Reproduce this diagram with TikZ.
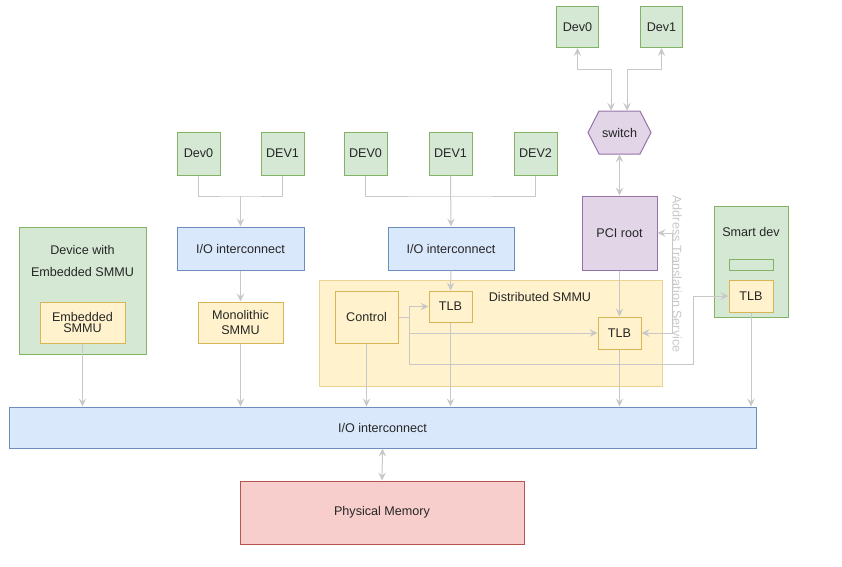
\documentclass[tikz,border=0pt]{standalone}
\usepackage{fontspec}
\setmainfont{Liberation Sans}
\usetikzlibrary{positioning,arrows.meta}
\definecolor{grnF}{HTML}{D5E8D4}
\definecolor{grnS}{HTML}{82B366}
\definecolor{bluF}{HTML}{DAE8FC}
\definecolor{bluS}{HTML}{6C8EBF}
\definecolor{ylwF}{HTML}{FFF2CC}
\definecolor{ylwS}{HTML}{D6B656}
\definecolor{purF}{HTML}{E1D5E7}
\definecolor{purS}{HTML}{9673A6}
\definecolor{redF}{HTML}{F8CECC}
\definecolor{redS}{HTML}{B85450}
\definecolor{lnk}{RGB}{200,200,200}
\colorlet{ylwD}{ylwS!50!ylwF}
\colorlet{txt}{black!85}
\tikzset{
    >={Stealth[length=8pt,width=7.5pt,inset=3pt]},
    plain/.style={font=\fontsize{12.6}{14}\selectfont,inner sep=0pt,text=txt},
    grnbox/.style={plain,draw=grnS,fill=grnF,line width=1pt},
    blubox/.style={plain,draw=bluS,fill=bluF,line width=1pt},
    ylwbox/.style={plain,draw=ylwS,fill=ylwF,line width=1pt},
    purbox/.style={plain,draw=purS,fill=purF,line width=1pt},
    redbox/.style={plain,draw=redS,fill=redF,line width=1pt},
    wire/.style={draw=lnk,line width=1pt},
    flow/.style={wire,->},
    both/.style={wire,<->}
}
\begin{document}
\begin{tikzpicture}[x=1pt,y=-1pt]
    \useasboundingbox (0,0) rectangle (842,566);
    \node[grnbox,minimum width=127,minimum height=127] (embdev) at (82.5,290.5) {};
    \node[plain,align=center] (embdevlbl) at (82.5,261) {Device with\\[8pt]Embedded SMMU};
    \node[ylwbox,minimum width=85,minimum height=41,align=center,
        font=\fontsize{12.6}{11}\selectfont] (embsmmu) at (82.5,322.5) {Embedded\\SMMU};
    \node[grnbox,minimum width=43,minimum height=43] (ldev0) at (198.5,153.5) {Dev0};
    \node[grnbox,minimum width=43,minimum height=43] (ldev1) at (282.5,153.5) {DEV1};
    \node[blubox,minimum width=127,minimum height=43] (ioL) at (240.5,248.5) {I/O interconnect};
    \node[ylwbox,minimum width=85,minimum height=41,align=center,
        font=\fontsize{12.6}{15}\selectfont] (mono) at (240.5,322.5) {Monolithic\\SMMU};
    \node[grnbox,minimum width=43,minimum height=43] (mdev0) at (365.5,153.5) {DEV0};
    \node[grnbox,minimum width=43,minimum height=43] (mdev1) at (450.5,153.5) {DEV1};
    \node[grnbox,minimum width=43,minimum height=43] (mdev2) at (535.5,153.5) {DEV2};
    \node[blubox,minimum width=126,minimum height=43] (ioM) at (451,248.5) {I/O interconnect};
    \node[plain,draw=ylwD,fill=ylwF,line width=1pt,minimum width=343,minimum height=106] (dsmmu) at (490.5,333) {};
    \node[plain] (dsmmulbl) at (540,297) {Distributed SMMU};
    \node[ylwbox,minimum width=63,minimum height=52] (ctrl) at (366.5,317) {Control};
    \node[ylwbox,minimum width=43,minimum height=31] (tlbA) at (450.5,306.5) {TLB};
    \node[ylwbox,minimum width=43,minimum height=32] (tlbB) at (619.5,333) {TLB};
    \node[grnbox,minimum width=42,minimum height=41] (tdev0) at (577.5,27) {Dev0};
    \node[grnbox,minimum width=42,minimum height=41] (tdev1) at (661.5,27) {Dev1};
    \draw[draw=purS,fill=purF,line width=1pt] (588,132.5) -- (599,111) -- (640,111)
        -- (651,132.5) -- (640,154) -- (599,154) -- cycle;
    \node[plain,minimum width=63,minimum height=43] (sw) at (619.5,132.5) {switch};
    \node[purbox,minimum width=75,minimum height=74] (pci) at (619.5,233) {PCI root};
    \node[grnbox,minimum width=74,minimum height=111] (smart) at (751,261.5) {};
    \node[plain] (smartlbl) at (751,232) {Smart dev};
    \node[grnbox,minimum width=44,minimum height=11] (smartreg) at (751,264.5) {};
    \node[ylwbox,minimum width=44,minimum height=32] (tlbS) at (751,296) {TLB};
    \node[blubox,minimum width=747,minimum height=41] (iobig) at (382.5,427.5) {I/O interconnect};
    \node[redbox,minimum width=284,minimum height=63] (mem) at (382,512.5) {Physical Memory};

    \coordinate (ljL) at (240.5,196);
    \draw[wire] (ldev0.south) |- (ljL) -| (ldev1.south);
    \draw[flow] (ljL) -- (ioL.north);
    \draw[flow] (ioL.south) -- (mono.north);
    \draw[flow] (mono.south) -- (mono.south |- iobig.north);
    \draw[flow] (embsmmu.south) -- (embsmmu.south |- iobig.north);

    \coordinate (ljM) at (450.5,196);
    \draw[wire] (mdev0.south) |- (ljM) -| (mdev2.south);
    \draw[flow] (mdev1.south) -- (ioM.north);
    \draw[flow] (ioM.south) -- (tlbA.north);
    \draw[flow] (tlbA.south) -- (tlbA.south |- iobig.north);
    \draw[flow] (ctrl.south) -- (ctrl.south |- iobig.north);
    \coordinate (cfork) at (409,317);
    \coordinate (cloop) at (693,364);
    \draw[wire] (ctrl.east) -- (cfork);
    \draw[flow] (cfork) |- (tlbA.west);
    \draw[flow] (cfork) |- (tlbB.west);
    \draw[flow] (cfork) |- (cloop) |- (tlbS.west);

    \coordinate (swkA) at (611,69);
    \coordinate (swkB) at (627,69);
    \draw[both] (sw.north -| swkA) -- (swkA) -| (tdev0.south);
    \draw[both] (sw.north -| swkB) -- (swkB) -| (tdev1.south);
    \draw[both] (sw.south) -- (pci.north);
    \draw[flow] (pci.south) -- (tlbB.north);
    \draw[flow] (tlbB.south) -- (tlbB.south |- iobig.north);
    \coordinate (atsx) at (672,280);
    \draw[both] (pci.east) -| (atsx) |- (tlbB.east);
    \node[plain,rotate=-90,text=lnk] (ats) at (677,274) {Address Translation Service};

    \draw[flow] (tlbS.south) -- (tlbS.south |- iobig.north);
    \draw[both] (iobig.south) -- (mem.north);
\end{tikzpicture}
\end{document}
